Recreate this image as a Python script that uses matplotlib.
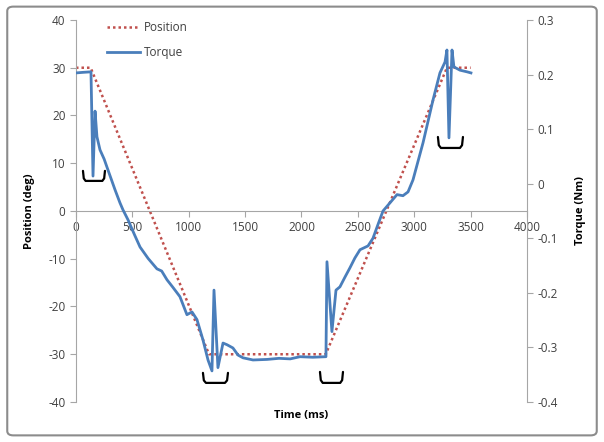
import matplotlib.pyplot as plt
from matplotlib.patches import FancyBboxPatch

plt.rcParams['font.family'] = ['Open Sans', 'DejaVu Sans']
plt.rcParams['axes.unicode_minus'] = False

# Position command (deg)
pos_t = [0, 130, 1180, 2215, 3290, 3500]
pos_deg = [30, 30, -30, -30, 30, 30]

# Measured torque (Nm)
torque_t = [0, 60, 133, 151, 169, 186, 213, 250, 284, 346, 390, 417, 461, 520, 568, 640, 718, 760,
            807, 860, 922, 984, 1029, 1073, 1126, 1171, 1206, 1224, 1259, 1304, 1339, 1392,
            1437, 1481, 1570, 1694, 1800, 1900, 1987, 2100, 2217, 2226, 2270, 2306, 2341,
            2386, 2430, 2474, 2519, 2590, 2634, 2678, 2723, 2785, 2847, 2900, 2945, 2989,
            3078, 3166, 3228, 3273, 3290, 3308, 3335, 3352, 3406, 3468, 3503]
torque_nm = [0.203, 0.204, 0.205, 0.014, 0.133, 0.086, 0.062, 0.045, 0.025, -0.011, -0.035,
             -0.048, -0.066, -0.094, -0.116, -0.137, -0.156, -0.160, -0.176, -0.190, -0.207,
             -0.240, -0.235, -0.249, -0.286, -0.323, -0.343, -0.195, -0.337, -0.292, -0.295,
             -0.301, -0.314, -0.319, -0.323, -0.322, -0.320, -0.321, -0.317, -0.318, -0.317,
             -0.143, -0.271, -0.195, -0.189, -0.171, -0.154, -0.136, -0.121, -0.114, -0.100,
             -0.075, -0.050, -0.035, -0.020, -0.022, -0.015, 0.007, 0.075, 0.153, 0.203, 0.223,
             0.245, 0.084, 0.245, 0.214, 0.208, 0.205, 0.203]

# bracket marks: (t start, t end, top deg, bottom deg)
brackets = [(62, 257, 8.4, 6.3), (1126, 1348, -33.9, -36.0),
            (2164, 2368, -33.7, -36.0), (3210, 3432, 15.5, 13.2)]

grey = '#a6a6a6'
txt = '#404040'

fig = plt.figure(figsize=(6.04, 4.42), dpi=100)
fig.patches.append(FancyBboxPatch((0.012, 0.015), 0.976, 0.97, boxstyle='round,pad=0,rounding_size=0.01',
                                  transform=fig.transFigure, facecolor='none', edgecolor='#8c8c8c', lw=1.5))

ax = fig.add_axes([0.1258, 0.0905, 0.7467, 0.8643])
ax2 = ax.twinx()

lp, = ax.plot(pos_t, pos_deg, color='#c0504d', ls=(0, (1, 1.2)), lw=1.8, label='Position')
lt, = ax2.plot(torque_t, torque_nm, color='#4a7ebb', lw=2, label='Torque')

for t0, t1, ytop, ybot in brackets:
    dx = (t1 - t0) * 0.12
    ax.plot([t0, t0 + dx * 0.3, t0 + dx, t1 - dx, t1 - dx * 0.3, t1],
            [ytop, ybot + (ytop - ybot) * 0.25, ybot, ybot, ybot + (ytop - ybot) * 0.25, ytop],
            color='black', lw=1.6, solid_capstyle='round')

ax.set_xlim(0, 4000)
ax.set_ylim(-40, 40)
ax2.set_ylim(-0.4, 0.3)
ax.set_xticks(range(0, 4001, 500))
ax.set_yticks(range(-40, 41, 10))
ax2.set_yticks([-0.4, -0.3, -0.2, -0.1, 0, 0.1, 0.2, 0.3])
ax2.set_yticklabels(['-0.4', '-0.3', '-0.2', '-0.1', '0', '0.1', '0.2', '0.3'])

for a in (ax, ax2):
    for s in a.spines.values():
        s.set_color(grey)
    a.spines['top'].set_visible(False)
    a.tick_params(colors=grey, labelcolor=txt, labelsize=8.5, length=4)
ax.spines['right'].set_visible(False)
ax2.spines['left'].set_visible(False)
ax2.spines['bottom'].set_visible(False)
ax.spines['bottom'].set_position(('data', 0))

ax.set_xlabel('Time (ms)', fontsize=8, fontweight='bold', color='black')
ax.xaxis.set_label_coords(0.5, -0.02)
ax.set_ylabel('Position (deg)', fontsize=8, fontweight='bold', color='black')
ax.yaxis.set_label_coords(-0.09, 0.5)
ax2.set_ylabel('Torque (Nm)', fontsize=8, fontweight='bold', color='black')
ax2.yaxis.set_label_coords(1.107, 0.5)

ax.legend(handles=[lp, lt], loc='upper left', bbox_to_anchor=(0.045, 1.024), frameon=False,
          fontsize=8.5, labelcolor=txt, handlelength=2.8, handletextpad=0.3, labelspacing=1.0)

fig.savefig('out.png', dpi=100)
